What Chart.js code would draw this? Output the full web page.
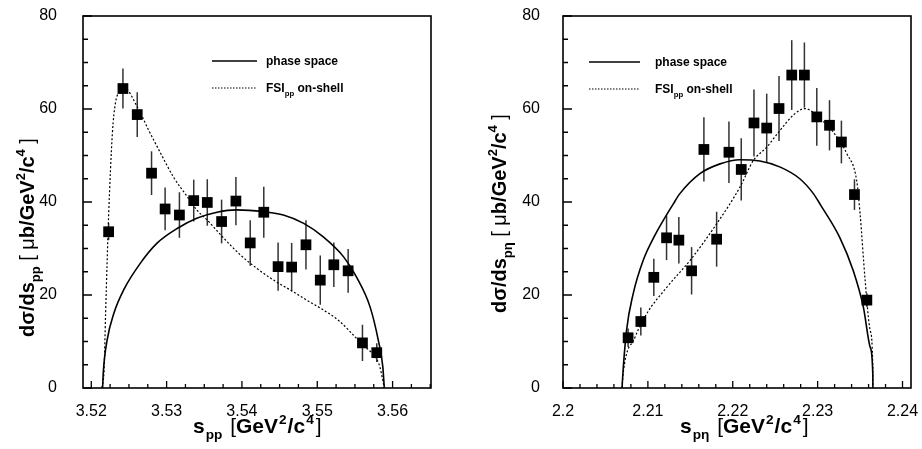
<!DOCTYPE html>
<html>
<head>
<meta charset="utf-8">
<script src="https://cdn.jsdelivr.net/npm/chart.js@4.4.0/dist/chart.umd.min.js"></script>
<style>
  body { margin: 0; background: #fff; }
  #wrap { position: relative; width: 922px; height: 449px; }
  .box { position: absolute; top: 0; width: 461px; height: 449px; }
</style>
</head>
<body>
<div id="wrap">
  <div class="box" style="left:0"><canvas id="ppChart" width="461" height="449"></canvas></div>
  <div class="box" style="left:461px"><canvas id="petaChart" width="461" height="449"></canvas></div>
</div>
<script>
// ---- left panel : s_pp ----
var ppX   = [3.5223, 3.5242, 3.5261, 3.5280, 3.5298, 3.5317, 3.5336, 3.5354, 3.5373, 3.5392,
             3.5411, 3.5429, 3.5448, 3.5466, 3.5485, 3.5504, 3.5522, 3.5541, 3.5560, 3.5579];
var ppY   = [33.6, 64.4, 58.8, 46.2, 38.5, 37.2, 40.3, 39.9, 35.8, 40.2,
             31.2, 37.8, 26.1, 26.0, 30.8, 23.2, 26.5, 25.2, 9.7, 7.6];
var ppErr = [1.8, 4.3, 4.8, 4.7, 4.6, 4.9, 4.5, 5.0, 4.7, 5.2,
             4.9, 5.5, 5.2, 5.2, 5.3, 5.3, 4.8, 4.7, 3.9, 2.0];
var ppPhaseX = [3.5215, 3.5216, 3.5221, 3.5230, 3.5243, 3.5265, 3.5287, 3.5314, 3.5340, 3.5367, 3.5393,
                3.5429, 3.5455, 3.5482, 3.5508, 3.5535, 3.5552, 3.5570, 3.5581, 3.5587, 3.5589];
var ppPhaseY = [0, 3.5, 10.3, 16.1, 21.1, 26.8, 31.1, 34.3, 36.5, 37.8, 38.3,
                37.9, 37.2, 35.4, 32.5, 28.2, 23.9, 17.5, 10.3, 4.6, 0];
var ppFsiX = [3.5214, 3.5217, 3.5219, 3.5221, 3.5223, 3.5228, 3.5232, 3.5239, 3.5243, 3.5261,
              3.5276, 3.5292, 3.5309, 3.5329, 3.5340, 3.5354, 3.5376, 3.5398, 3.5420, 3.5442,
              3.5464, 3.5486, 3.5508, 3.5530, 3.5552, 3.5566, 3.5577, 3.5583, 3.5589];
var ppFsiY = [0, 4, 16, 27, 37, 54.8, 61.2, 64.1, 64.7, 60.5,
              55.5, 50.5, 45.4, 40.8, 38.3, 36.1, 32.2, 28.6, 25.7, 23.2,
              21.1, 18.9, 16.8, 14.3, 10.7, 8.5, 6.7, 4.6, 0];
var ppTicks = [3.52, 3.53, 3.54, 3.55, 3.56];
var ppTickLabels = ['3.52', '3.53', '3.54', '3.55', '3.56'];

// ---- right panel : s_p-eta ----
var peX   = [2.20767, 2.20917, 2.21070, 2.21220, 2.21365, 2.21515, 2.21660, 2.21810, 2.21955, 2.22100,
             2.22250, 2.22400, 2.22545, 2.22695, 2.22844, 2.22990, 2.23140, 2.23280, 2.23434, 2.23580];
var peY   = [10.8, 14.3, 23.8, 32.3, 31.8, 25.2, 51.3, 32.0, 50.7, 47.0,
             57.0, 55.9, 60.1, 67.3, 67.3, 58.3, 56.5, 52.9, 41.6, 18.9];
var peErr = [2.0, 3.0, 4.0, 4.8, 5.0, 5.1, 6.9, 5.9, 6.6, 6.7,
             7.2, 7.4, 7.0, 7.5, 7.0, 6.2, 5.4, 4.6, 3.3, 1.5];
var pePhaseX = [2.20696, 2.20700, 2.20748, 2.20826, 2.20944, 2.21082, 2.21300, 2.21377, 2.21613, 2.21850, 2.22085,
                2.22320, 2.22560, 2.22790, 2.22950, 2.23030, 2.23260, 2.23420, 2.23540, 2.23620, 2.23650, 2.23651];
var pePhaseY = [0, 1.5, 12.3, 20.2, 27.4, 32.8, 39.6, 41.8, 46.1, 48.2, 49.1,
                48.8, 47.5, 45.0, 41.8, 39.5, 32.4, 25.2, 17.3, 8.7, 3, 0];
var peFsiX = [2.20696, 2.20708, 2.20846, 2.20984, 2.21220, 2.21495, 2.21810, 2.22085, 2.22242, 2.22400, 2.22557,
              2.22714, 2.22850, 2.23030, 2.23186, 2.23344, 2.23460, 2.23500, 2.23560, 2.23620, 2.23650, 2.23651];
var peFsiY = [0, 3, 10.8, 15.9, 21.6, 27.4, 35.3, 43.2, 48.9, 51.8, 55.4,
              58.7, 60.1, 57.9, 55.0, 50.4, 44.6, 37.5, 23.1, 12.3, 4.4, 0];
var peTicks = [2.20, 2.21, 2.22, 2.23, 2.24];
var peTickLabels = ['2.2', '2.21', '2.22', '2.23', '2.24'];

var yTicks = [0, 20, 40, 60, 80];
var yTickLabels = ['0', '20', '40', '60', '80'];

var FONT = '"Liberation Sans", Arial, sans-serif';

function xy(xs, ys) {
    return xs.map(function (v, i) { return { x: v, y: ys[i] }; });
}

// text with sub/superscripts, drawn left to right from (x, y)
function drawRich(ctx, pieces, x, y, size) {
    var cx = x;
    ctx.textAlign = 'left';
    ctx.textBaseline = 'alphabetic';
    ctx.fillStyle = '#000';
    pieces.forEach(function (p) {
        var s = (p.sub || p.sup) ? size * 0.65 : size;
        var dy = p.sub ? size * 0.3 : (p.sup ? -size * 0.45 : 0);
        ctx.font = (p.b ? 'bold ' : '') + s + 'px ' + FONT;
        cx += p.gap || 0;
        ctx.fillText(p.t, cx, y + dy);
        cx += ctx.measureText(p.t).width;
    });
}

function makeDeco(c) {
    return {
        id: 'deco',
        beforeDatasetsDraw: function (chart) {
            var ctx = chart.ctx, a = chart.chartArea, xs = chart.scales.x, ys = chart.scales.y;
            var L = Math.round(a.left), R = Math.round(a.right);
            var T = Math.round(a.top), B = Math.round(a.bottom);
            ctx.save();
            ctx.strokeStyle = '#000';
            // frame
            ctx.lineWidth = 1.6;
            ctx.strokeRect(L, T, R - L, B - T);
            // inward ticks
            ctx.lineWidth = 1.3;
            ctx.beginPath();
            var i, v, p, len;
            for (i = 0; i <= 16; i++) {
                v = i * 5;
                p = ys.getPixelForValue(v);
                ctx.moveTo(L, p);
                ctx.lineTo(L + (v % 20 === 0 ? 9 : 5), p);
            }
            var t0 = c.ticks[0], step = c.ticks[1] - c.ticks[0], sub = step / c.xDiv;
            for (i = -c.xDiv; i <= c.xDiv * c.ticks.length; i++) {
                v = t0 + i * sub;
                if (v < xs.min || v > xs.max) continue;
                p = xs.getPixelForValue(v);
                len = (i % c.xDiv === 0) ? 7 : 4;
                ctx.moveTo(p, B);
                ctx.lineTo(p, B - len);
            }
            ctx.stroke();

            // error bars
            ctx.strokeStyle = '#333';
            ctx.lineWidth = 1.5;
            c.x.forEach(function (v, i) {
                var px = xs.getPixelForValue(v);
                ctx.beginPath();
                ctx.moveTo(px, ys.getPixelForValue(c.y[i] - c.err[i]));
                ctx.lineTo(px, ys.getPixelForValue(c.y[i] + c.err[i]));
                ctx.stroke();
            });
            ctx.restore();
        },
        afterDraw: function (chart) {
            var ctx = chart.ctx;
            ctx.save();
            // legend
            ctx.strokeStyle = '#000';
            ctx.lineWidth = 1.5;
            ctx.beginPath();
            ctx.moveTo(c.leg.x0, c.leg.y1);
            ctx.lineTo(c.leg.x1, c.leg.y1);
            ctx.stroke();
            ctx.lineWidth = 1;
            ctx.setLineDash([1.5, 1.5]);
            ctx.beginPath();
            ctx.moveTo(c.leg.x0, c.leg.y2);
            ctx.lineTo(c.leg.x1, c.leg.y2);
            ctx.stroke();
            ctx.setLineDash([]);
            drawRich(ctx, [{ t: 'phase space', b: 1 }], c.leg.tx, c.leg.y1 + 4, 12);
            drawRich(ctx, [{ t: 'FSI', b: 1 }, { t: 'pp', b: 1, sub: 1 }, { t: ' on-shell', b: 1 }],
                     c.leg.tx, c.leg.y2 + 4, 12);

            // axis titles
            drawRich(ctx, c.xTitle, c.xt.x, c.xt.y, 21);
            ctx.translate(c.yt.x, c.yt.y);
            ctx.rotate(-Math.PI / 2);
            drawRich(ctx, c.yTitle, 0, 0, 20);
            ctx.restore();
        }
    };
}

function buildChart(id, c) {
    return new Chart(document.getElementById(id), {
        type: 'scatter',
        data: {
            datasets: [{
                data: xy(c.x, c.y),
                pointStyle: 'rect',
                pointRadius: 7.6,
                backgroundColor: '#000',
                borderWidth: 0,
                showLine: false
            }, {
                data: xy(c.psX, c.psY),
                showLine: true,
                borderColor: '#000',
                borderWidth: 1.6,
                pointRadius: 0,
                cubicInterpolationMode: 'monotone'
            }, {
                data: xy(c.fsiX, c.fsiY),
                showLine: true,
                borderColor: '#000',
                borderWidth: 1.2,
                borderDash: [2, 2],
                pointRadius: 0,
                cubicInterpolationMode: 'monotone'
            }]
        },
        options: {
            responsive: false,
            animation: false,
            events: [],
            layout: { padding: { left: 0, right: c.padRight, top: 16, bottom: 0 } },
            plugins: { legend: { display: false }, tooltip: { enabled: false } },
            scales: {
                x: {
                    type: 'linear',
                    min: c.xmin,
                    max: c.xmax,
                    grid: { display: false },
                    border: { display: false },
                    afterBuildTicks: function (s) { s.ticks = c.ticks.map(function (v) { return { value: v }; }); },
                    afterFit: function (s) { s.height = 61; s.paddingLeft = 0; s.paddingRight = 0; },
                    ticks: {
                        color: '#000',
                        font: { family: FONT, size: 16 },
                        padding: 6,
                        maxRotation: 0,
                        autoSkip: false,
                        callback: function (v, i) { return c.tickLabels[i]; }
                    }
                },
                y: {
                    min: 0,
                    max: 80,
                    grid: { display: false },
                    border: { display: false },
                    afterBuildTicks: function (s) { s.ticks = yTicks.map(function (v) { return { value: v }; }); },
                    afterFit: function (s) { s.width = c.yWidth; s.paddingTop = 0; s.paddingBottom = 0; },
                    ticks: {
                        color: '#000',
                        font: { family: FONT, size: 16 },
                        padding: c.yPad,
                        callback: function (v, i) { return yTickLabels[i]; }
                    }
                }
            }
        },
        plugins: [makeDeco(c)]
    });
}

buildChart('ppChart', {
    x: ppX, y: ppY, err: ppErr,
    psX: ppPhaseX, psY: ppPhaseY, fsiX: ppFsiX, fsiY: ppFsiY,
    xmin: 3.5189, xmax: 3.5651, ticks: ppTicks, tickLabels: ppTickLabels, xDiv: 4,
    padRight: 30, yWidth: 83, yPad: 18,
    leg: { x0: 212, x1: 257, tx: 266, y1: 61, y2: 88 },
    xt: { x: 193, y: 433 },
    yt: { x: 34, y: 337 },
    xTitle: [{ t: 's', b: 1 }, { t: 'pp', b: 1, sub: 1, gap: 1 }, { t: ' [', gap: 2 }, { t: 'GeV', b: 1 }, { t: '2', b: 1, sup: 1, gap: 1 },
             { t: '/c', b: 1, gap: 1 }, { t: '4', b: 1, sup: 1, gap: 1 }, { t: ']', gap: 2 }],
    yTitle: [{ t: 'dσ/ds', b: 1 }, { t: 'pp', b: 1, sub: 1 }, { t: ' [ μ' }, { t: 'b/GeV', b: 1 }, { t: '2', b: 1, sup: 1 },
             { t: '/c', b: 1 }, { t: '4', b: 1, sup: 1 }, { t: ' ]' }]
});

buildChart('petaChart', {
    x: peX, y: peY, err: peErr,
    psX: pePhaseX, psY: pePhaseY, fsiX: peFsiX, fsiY: peFsiY,
    xmin: 2.2, xmax: 2.241, ticks: peTicks, tickLabels: peTickLabels, xDiv: 5,
    padRight: 11, yWidth: 102, yPad: 15,
    leg: { x0: 128, x1: 179, tx: 194, y1: 62, y2: 89 },
    xt: { x: 219, y: 433 },
    yt: { x: 45, y: 313 },
    xTitle: [{ t: 's', b: 1 }, { t: 'pη', b: 1, sub: 1, gap: 1 }, { t: ' [', gap: 2 }, { t: 'GeV', b: 1 }, { t: '2', b: 1, sup: 1, gap: 1 },
             { t: '/c', b: 1, gap: 1 }, { t: '4', b: 1, sup: 1, gap: 1 }, { t: ']', gap: 2 }],
    yTitle: [{ t: 'dσ/ds', b: 1 }, { t: 'pη', b: 1, sub: 1 }, { t: ' [ μ' }, { t: 'b/GeV', b: 1 }, { t: '2', b: 1, sup: 1 },
             { t: '/c', b: 1 }, { t: '4', b: 1, sup: 1 }, { t: ' ]' }]
});
</script>
</body>
</html>
